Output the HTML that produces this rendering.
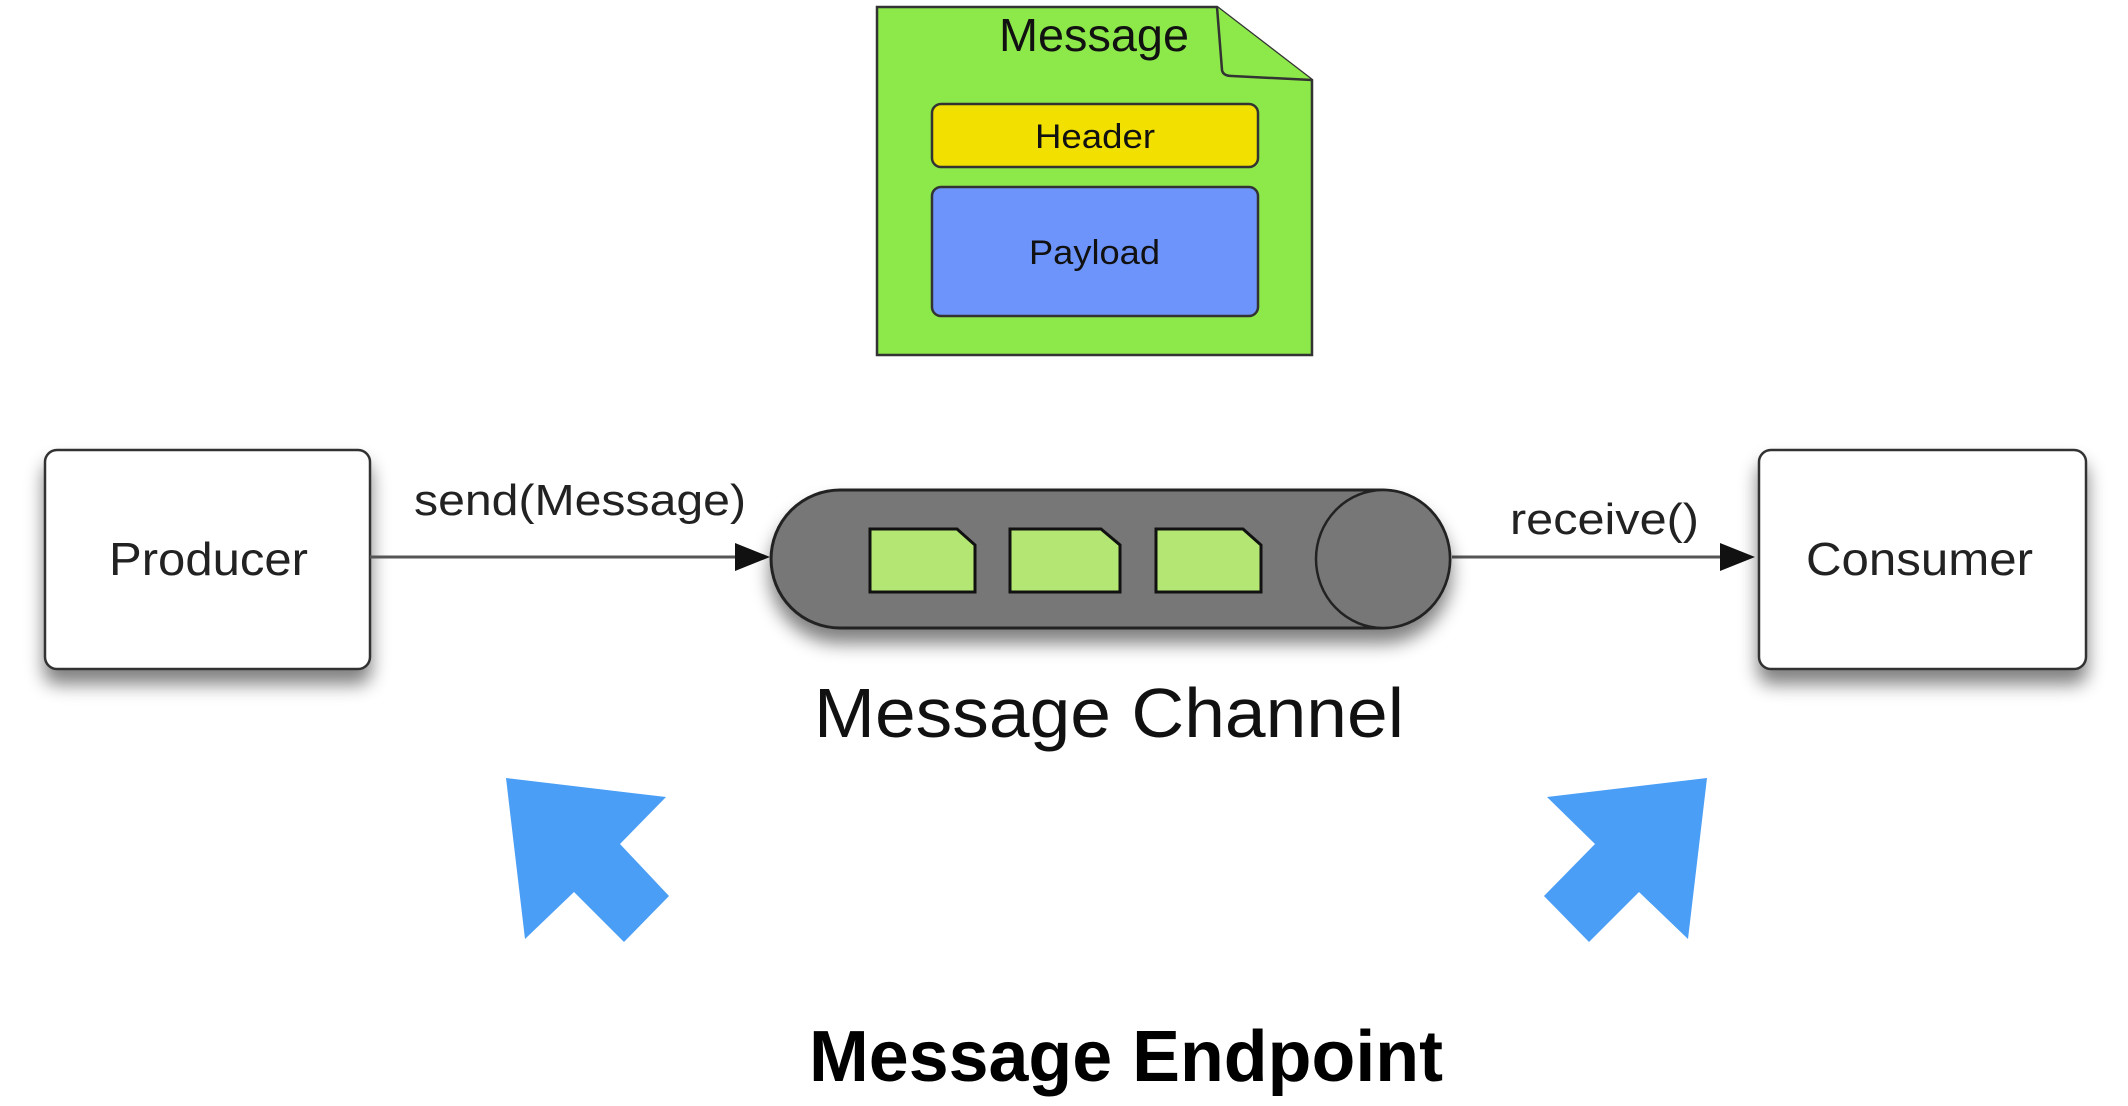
<!DOCTYPE html>
<html><head><meta charset="utf-8"><style>
html,body{margin:0;padding:0;background:#fff;}
svg{display:block;}
text{font-family:"Liberation Sans",sans-serif;}
</style></head><body>
<svg width="2128" height="1106" viewBox="0 0 2128 1106" xmlns="http://www.w3.org/2000/svg">
<defs>
<filter id="sh" x="-20%" y="-20%" width="140%" height="170%"><feGaussianBlur in="SourceAlpha" stdDeviation="9"/><feOffset dx="0" dy="14"/><feComponentTransfer><feFuncA type="linear" slope="0.5"/></feComponentTransfer><feMerge><feMergeNode/><feMergeNode in="SourceGraphic"/></feMerge></filter>
</defs>
<!-- Message doc -->
<path d="M877,7 L1217,7 Q1260,40 1312,80 L1312,355 L877,355 Z" fill="#8de84a" stroke="#333" stroke-width="2.5"/>
<path d="M1217,7 L1222,70 Q1223,76 1232,76 L1312,80" fill="#8de84a" stroke="#333" stroke-width="2.5"/>
<text x="999" y="51" font-size="46" textLength="190" lengthAdjust="spacingAndGlyphs" fill="#111">Message</text>
<rect x="932" y="104" width="326" height="63" rx="9" fill="#f2e100" stroke="#333" stroke-width="2.5"/>
<text x="1035" y="148" font-size="34" textLength="120" lengthAdjust="spacingAndGlyphs" fill="#111">Header</text>
<rect x="932" y="187" width="326" height="129" rx="9" fill="#6d94fb" stroke="#333" stroke-width="2.5"/>
<text x="1029" y="264" font-size="34" textLength="131" lengthAdjust="spacingAndGlyphs" fill="#111">Payload</text>
<!-- Producer / Consumer -->
<rect x="45" y="450" width="325" height="219" rx="12" fill="#fff" stroke="#333" stroke-width="2.5" filter="url(#sh)"/>
<text x="109" y="575" font-size="46" textLength="199" lengthAdjust="spacingAndGlyphs" fill="#222">Producer</text>
<rect x="1759" y="450" width="327" height="219" rx="12" fill="#fff" stroke="#333" stroke-width="2.5" filter="url(#sh)"/>
<text x="1806" y="575" font-size="46" textLength="227" lengthAdjust="spacingAndGlyphs" fill="#222">Consumer</text>
<!-- connectors -->
<line x1="370" y1="557" x2="745" y2="557" stroke="#555" stroke-width="3"/>
<polygon points="735,543 770,557 735,571" fill="#111"/>
<text x="414" y="515" font-size="44" textLength="332" lengthAdjust="spacingAndGlyphs" fill="#222">send(Message)</text>
<line x1="1452" y1="557" x2="1730" y2="557" stroke="#555" stroke-width="3"/>
<polygon points="1720,543 1755,557 1720,571" fill="#111"/>
<text x="1510" y="534" font-size="44" textLength="189" lengthAdjust="spacingAndGlyphs" fill="#222">receive()</text>
<!-- channel -->
<path d="M840,490 L1383,490 A67,69 0 0 1 1383,628 L840,628 A69,69 0 0 1 840,490 Z" fill="#777" stroke="#222" stroke-width="3" filter="url(#sh)"/>
<ellipse cx="1383" cy="559" rx="67" ry="69" fill="#777" stroke="#222" stroke-width="2.5"/>
<g fill="#b3e672" stroke="#111" stroke-width="3">
<path d="M870,529 L957,529 L975,545 L975,592 L870,592 Z"/>
<path d="M1010,529 L1101,529 L1120,545 L1120,592 L1010,592 Z"/>
<path d="M1156,529 L1243,529 L1261,545 L1261,592 L1156,592 Z"/>
</g>
<text x="814" y="737" font-size="70" textLength="590" lengthAdjust="spacingAndGlyphs" fill="#111">Message Channel</text>
<!-- blue arrows -->
<polygon points="506,778 666,797 620,844 669,896 624,942 574,892 525,939" fill="#4a9ef6"/>
<polygon points="1707,778 1547,797 1595,844 1544,896 1589,942 1639,892 1688,939" fill="#4a9ef6"/>
<text x="809" y="1081" font-size="72" font-weight="bold" textLength="634" lengthAdjust="spacingAndGlyphs" fill="#000">Message Endpoint</text>
</svg>
</body></html>
